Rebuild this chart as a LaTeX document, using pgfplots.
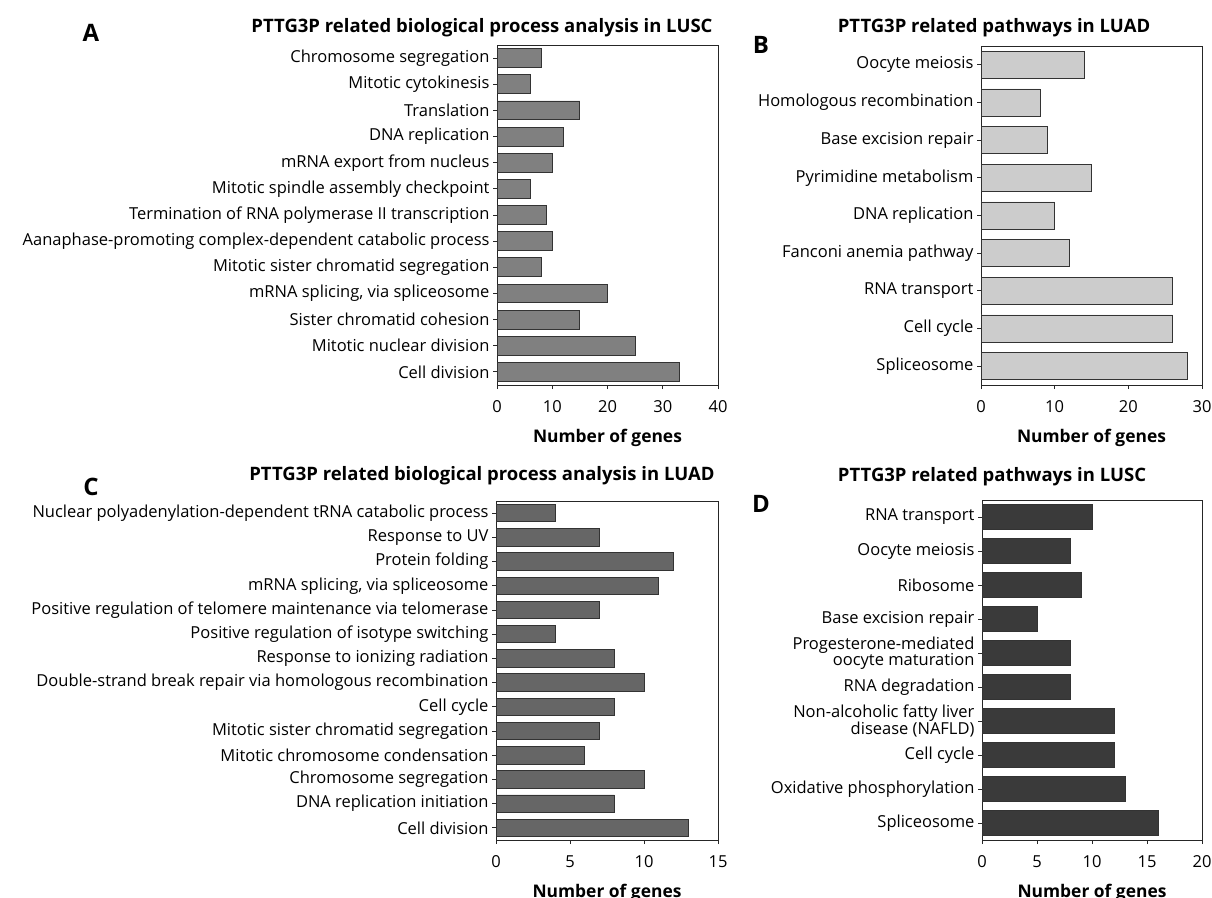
\documentclass[border=0pt]{standalone}
\usepackage{pgfplots}
\pgfplotsset{compat=1.18}
\usepackage{fontspec}
\setmainfont{Open Sans}
\definecolor{barA}{HTML}{808080}
\definecolor{barB}{HTML}{CCCCCC}
\definecolor{barC}{HTML}{666666}
\definecolor{barD}{HTML}{3A3A3A}
\definecolor{edge}{HTML}{333333}
\pgfplotsset{
  panel/.style={
    scale only axis, xbar, y dir=reverse,
    axis line style={line width=0.9pt, color=black!85},
    tick style={color=black!85, line width=0.9pt},
    tick align=outside, major tick length=4pt,
    xtick pos=bottom, ytick pos=left,
    bar width=0.72, xmin=0, ymin=-0.5,
    /pgf/number format/assume math mode=true,
    xticklabel style={font=\fontsize{16.5}{17}\selectfont, yshift=-8pt},
    yticklabel style={align=right, font=\fontsize{16.5}{16.5}\selectfont},
    xlabel style={font=\bfseries\fontsize{17.4}{18}\selectfont, yshift=-10pt},
    xlabel={Number of genes},
  }
}
\begin{document}
\begin{tikzpicture}
\useasboundingbox (0pt,0pt) rectangle (1212pt,897pt);
% Panel A
\begin{axis}[panel, at={(497pt,512pt)}, anchor=south west, width=221pt, height=340pt,
  xmax=40, xtick={0,10,20,30,40}, ymax=12.5, ytick={0,...,12},
  yticklabels={Chromosome segregation, Mitotic cytokinesis, Translation, DNA replication, mRNA export from nucleus, Mitotic spindle assembly checkpoint, Termination of RNA polymerase II transcription, Aanaphase-promoting complex-dependent catabolic process, Mitotic sister chromatid segregation, {mRNA splicing, via spliceosome}, Sister chromatid cohesion, Mitotic nuclear division, Cell division}]
\addplot[fill=barA, draw=edge, line width=0.8pt] coordinates {(8,0) (6,1) (15,2) (12,3) (10,4) (6,5) (9,6) (10,7) (8,8) (20,9) (15,10) (25,11) (33,12)};
\end{axis}
% Panel B
\begin{axis}[panel, at={(981pt,512pt)}, anchor=south west, width=221pt, height=339pt,
  xmax=30, xtick={0,10,20,30}, ymax=8.5, ytick={0,...,8},
  yticklabels={Oocyte meiosis, Homologous recombination, Base excision repair, Pyrimidine metabolism, DNA replication, Fanconi anemia pathway, RNA transport, Cell cycle, Spliceosome}]
\addplot[fill=barB, draw=edge, line width=0.8pt] coordinates {(14,0) (8,1) (9,2) (15,3) (10,4) (12,5) (26,6) (26,7) (28,8)};
\end{axis}
% Panel C
\begin{axis}[panel, at={(496pt,57pt)}, anchor=south west, width=222pt, height=339pt,
  xmax=15, xtick={0,5,10,15}, ymax=13.5, ytick={0,...,13},
  yticklabels={Nuclear polyadenylation-dependent tRNA catabolic process, Response to UV, Protein folding, {mRNA splicing, via spliceosome}, Positive regulation of telomere maintenance via telomerase, Positive regulation of isotype switching, Response to ionizing radiation, Double-strand break repair via homologous recombination, Cell cycle, Mitotic sister chromatid segregation, Mitotic chromosome condensation, Chromosome segregation, DNA replication initiation, Cell division}]
\addplot[fill=barC, draw=edge, line width=0.8pt] coordinates {(4,0) (7,1) (12,2) (11,3) (7,4) (4,5) (8,6) (10,7) (8,8) (7,9) (6,10) (10,11) (8,12) (13,13)};
\end{axis}
% Panel D
\begin{axis}[panel, at={(982pt,57pt)}, anchor=south west, width=220pt, height=340pt,
  xmax=20, xtick={0,5,10,15,20}, ymax=9.5, ytick={0,...,9},
  yticklabels={RNA transport, Oocyte meiosis, Ribosome, Base excision repair, {Progesterone-mediated\\oocyte maturation}, RNA degradation, {Non-alcoholic fatty liver\\disease (NAFLD)}, Cell cycle, Oxidative phosphorylation, Spliceosome}]
\addplot[fill=barD, draw=edge, line width=0.8pt] coordinates {(10,0) (8,1) (9,2) (5,3) (8,4) (8,5) (12,6) (12,7) (13,8) (16,9)};
\end{axis}
% Titles and letters
\node[font=\bfseries\fontsize{18.5}{20}\selectfont] at (482pt,869pt) {PTTG3P related biological process analysis in LUSC};
\node[font=\bfseries\fontsize{18.5}{20}\selectfont] at (994pt,869pt) {PTTG3P related pathways in LUAD};
\node[font=\bfseries\fontsize{18.5}{20}\selectfont] at (482pt,421pt) {PTTG3P related biological process analysis in LUAD};
\node[font=\bfseries\fontsize{18.5}{20}\selectfont] at (992pt,420pt) {PTTG3P related pathways in LUSC};
\node[font=\bfseries\fontsize{24}{26}\selectfont] at (91pt,864pt) {A};
\node[font=\bfseries\fontsize{24}{26}\selectfont] at (761pt,852pt) {B};
\node[font=\bfseries\fontsize{24}{26}\selectfont] at (91pt,410pt) {C};
\node[font=\bfseries\fontsize{24}{26}\selectfont] at (761pt,393pt) {D};
\end{tikzpicture}
\end{document}
